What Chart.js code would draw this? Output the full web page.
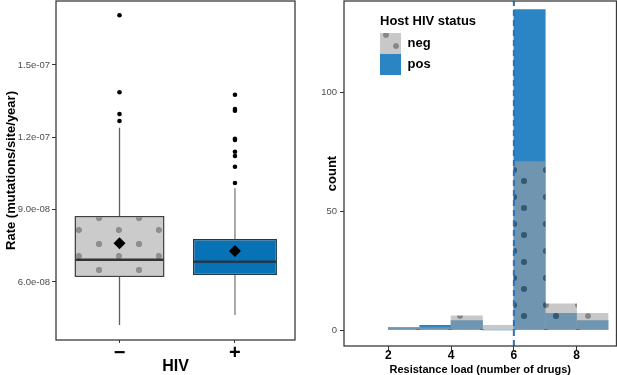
<!DOCTYPE html>
<html>
<head>
<meta charset="utf-8">
<script src="https://cdn.jsdelivr.net/npm/chart.js@4.4.1/dist/chart.umd.min.js"></script>
<style>
  body { margin: 0; background: #fff; }
  #wrap { position: relative; width: 617px; height: 375px; }
  #boxCanvas { position: absolute; left: 0; top: 0; }
  #histCanvas { position: absolute; left: 310px; top: 0; }
</style>
</head>
<body>
<div id="wrap">
  <canvas id="boxCanvas" width="310" height="375"></canvas>
  <canvas id="histCanvas" width="307" height="375"></canvas>
</div>
<script>
// left panel: substitution rate by host HIV status
var groups = ['\u2212', '+'];
var groupPos = [1, 2];
var q1 = [6.207e-8, 6.29e-8];
var med = [6.925e-8, 6.842e-8];
var q3 = [8.737e-8, 7.783e-8];
var whiskLo = [4.217e-8, 4.631e-8];
var whiskHi = [1.24e-7, 9.886e-8];
var means = [7.605e-8, 7.286e-8];
var outliersNeg = [1.7061e-7, 1.3868e-7, 1.2968e-7, 1.2677e-7];
var outliersPos = [1.3768e-7, 1.3175e-7, 1.3105e-7, 1.1943e-7, 1.1889e-7, 1.1404e-7, 1.1226e-7, 1.0782e-7, 1.0106e-7];
var rateTicks = [6e-8, 9e-8, 1.2e-7, 1.5e-7];
var rateTickLabels = ['6.0e-08', '9.0e-08', '1.2e-07', '1.5e-07'];

// right panel: histogram of resistance load
var binCenters = [2.5, 3.5, 4.5, 5.5, 6.5, 7.5, 8.5];
var negCounts = [1, 1, 6, 2, 71, 11, 7];
var posCounts = [1, 2, 4, 0, 135, 7, 4];
var loadTicks = [2, 4, 6, 8];
var countTicks = [0, 50, 100];
var cutoff = 6;

Chart.defaults.font.family = "'Liberation Sans', Arial, sans-serif";
Chart.defaults.animation = false;

function dotPattern(ctx, bg, dot, w, h, dots, r) {
    var c = document.createElement('canvas');
    c.width = w;
    c.height = h;
    var g = c.getContext('2d');
    g.fillStyle = bg;
    g.fillRect(0, 0, w, h);
    [['destination-out', '#000'], ['source-over', dot]].forEach(function(step) {
        g.globalCompositeOperation = step[0];
        g.fillStyle = step[1];
        dots.forEach(function(d) {
            [-w, 0, w].forEach(function(dx) {
                [-h, 0, h].forEach(function(dy) {
                    g.beginPath();
                    g.arc(d[0] + dx, d[1] + dy, r, 0, Math.PI * 2);
                    g.fill();
                });
            });
        });
    });
    return ctx.createPattern(c, 'repeat');
}

// fixed axis sizes, no extra label padding around the plot
function fixX(h) {
    return function(s) { s.height = h; s.paddingLeft = 0; s.paddingRight = 0; };
}
function fixY(w) {
    return function(s) { s.width = w; s.paddingTop = 0; s.paddingBottom = 0; };
}
function setTicks(values) {
    return function(s) { s.ticks = values.map(function(v) { return {value: v}; }); };
}

var framePlugin = {
    id: 'frame',
    afterDraw: function(chart) {
        var a = chart.chartArea, ctx = chart.ctx;
        ctx.save();
        ctx.strokeStyle = '#3a3a3a';
        ctx.lineWidth = 1.3;
        ctx.strokeRect(a.left, a.top, a.right - a.left, a.bottom - a.top);
        ctx.restore();
    }
};

// ---------- boxplot ----------
var whiskerColors = ['#5e5e5e', '#7d7d7d'];
var medianColors = ['#333333', '#1f3a50'];

var boxPlugin = {
    id: 'boxparts',
    beforeDatasetsDraw: function(chart) {
        var ctx = chart.ctx, x = chart.scales.x, y = chart.scales.y;
        ctx.save();
        ctx.lineWidth = 1.3;
        groupPos.forEach(function(p, i) {
            var px = x.getPixelForValue(p);
            ctx.strokeStyle = whiskerColors[i];
            ctx.beginPath();
            ctx.moveTo(px, y.getPixelForValue(whiskLo[i]));
            ctx.lineTo(px, y.getPixelForValue(q1[i]));
            ctx.moveTo(px, y.getPixelForValue(q3[i]));
            ctx.lineTo(px, y.getPixelForValue(whiskHi[i]));
            ctx.stroke();
        });
        ctx.restore();
    },
    afterDatasetDraw: function(chart, args) {
        var ds = chart.data.datasets[args.index];
        if (ds.boxIndex === undefined) return;
        var i = ds.boxIndex;
        var el = args.meta.data[0];
        var py = chart.scales.y.getPixelForValue(med[i]);
        var ctx = chart.ctx;
        ctx.save();
        ctx.strokeStyle = medianColors[i];
        ctx.lineWidth = 2.5;
        ctx.beginPath();
        ctx.moveTo(el.x - el.width / 2 + 1, py);
        ctx.lineTo(el.x + el.width / 2 - 1, py);
        ctx.stroke();
        ctx.restore();
    }
};

var boxCtx = document.getElementById('boxCanvas').getContext('2d');
var negBoxFill = dotPattern(boxCtx, '#cbcbcb', '#8f8f8f', 40, 26, [[19, 10], [39, 22]], 3.2);

var outlierPoints = outliersNeg.map(function(v) { return {x: groupPos[0], y: v}; })
    .concat(outliersPos.map(function(v) { return {x: groupPos[1], y: v}; }));

new Chart(boxCtx, {
    data: {
        datasets: [
            {
                type: 'scatter',
                label: 'mean',
                data: groupPos.map(function(p, i) { return {x: p, y: means[i]}; }),
                pointStyle: 'rectRot',
                pointRadius: 6,
                backgroundColor: '#000',
                borderWidth: 0,
                order: 0
            },
            {
                type: 'scatter',
                label: 'outliers',
                data: outlierPoints,
                pointRadius: 2.3,
                backgroundColor: '#000',
                borderWidth: 0,
                order: 1
            },
            {
                type: 'bar',
                label: 'neg',
                data: [{x: groupPos[0], y: [q1[0], q3[0]]}],
                backgroundColor: negBoxFill,
                borderColor: '#404040',
                borderWidth: 1.5,
                borderSkipped: false,
                barPercentage: 0.78,
                categoryPercentage: 1,
                grouped: false,
                order: 2,
                boxIndex: 0
            },
            {
                type: 'bar',
                label: 'pos',
                data: [{x: groupPos[1], y: [q1[1], q3[1]]}],
                backgroundColor: '#0773b6',
                borderColor: '#1f3a50',
                borderWidth: 1.5,
                borderSkipped: false,
                barPercentage: 0.727,
                categoryPercentage: 1,
                grouped: false,
                order: 2,
                boxIndex: 1
            }
        ]
    },
    options: {
        responsive: false,
        events: [],
        layout: { autoPadding: false, padding: { left: 0, right: 15, top: 1, bottom: 0 } },
        plugins: { legend: { display: false }, tooltip: { enabled: false } },
        scales: {
            x: {
                type: 'linear',
                offset: false,
                min: 0.45,
                max: 2.52,
                afterBuildTicks: setTicks(groupPos),
                afterFit: fixX(35),
                ticks: {
                    callback: function(v, i) { return groups[i]; },
                    font: { size: 20, weight: 'bold', lineHeight: 1 },
                    color: '#000',
                    padding: 0,
                    maxRotation: 0,
                    autoSkip: false
                },
                grid: { offset: false, drawOnChartArea: false, tickLength: 3, color: '#333' },
                border: { display: false },
                title: {
                    display: true,
                    text: 'HIV',
                    font: { size: 16, weight: 'bold', lineHeight: 1 },
                    color: '#000',
                    padding: 0
                }
            },
            y: {
                type: 'linear',
                min: 3.594e-8,
                max: 1.7654e-7,
                afterBuildTicks: setTicks(rateTicks),
                afterFit: fixY(56),
                ticks: {
                    callback: function(v, i) { return rateTickLabels[i]; },
                    font: { size: 9.5 },
                    color: '#4d4d4d',
                    padding: 2
                },
                grid: { drawOnChartArea: false, tickLength: 4, color: '#333' },
                border: { display: false },
                title: {
                    display: true,
                    text: 'Rate (mutations/site/year)',
                    font: { size: 13, weight: 'bold' },
                    color: '#000',
                    padding: { top: 4, bottom: 0 }
                }
            }
        }
    },
    plugins: [boxPlugin, framePlugin]
});

// ---------- histogram ----------
var histCtx = document.getElementById('histCanvas').getContext('2d');
var negHistFill = dotPattern(histCtx, 'rgba(160,160,160,0.58)', 'rgba(60,60,60,0.62)', 32, 27, [[12, 8], [22, 19]], 3);

var legendShift = {
    id: 'legendShift',
    afterLayout: function(chart) {
        var lg = chart.legend;
        lg.left = chart.chartArea.left + 36;
        lg.top = 14.5;
        lg.right = chart.width;
        lg.width = lg.right - lg.left;
        lg.bottom = lg.top + lg.height;
    }
};

var yMinR = -6.74, yMaxR = 138.6;

new Chart(histCtx, {
    data: {
        datasets: [
            {
                type: 'bar',
                label: 'neg',
                data: binCenters.map(function(c, i) { return {x: c, y: negCounts[i]}; }),
                backgroundColor: negHistFill,
                borderWidth: 0,
                barPercentage: 1,
                categoryPercentage: 1,
                grouped: false,
                order: 1
            },
            {
                type: 'bar',
                label: 'pos',
                data: binCenters.map(function(c, i) { return {x: c, y: posCounts[i]}; }),
                backgroundColor: '#2b85c5',
                borderWidth: 0,
                barPercentage: 1,
                categoryPercentage: 1,
                grouped: false,
                order: 2
            },
            {
                type: 'line',
                label: 'cutoff',
                data: [{x: cutoff, y: yMinR}, {x: cutoff, y: yMaxR}],
                borderColor: '#2a72b5',
                borderWidth: 2,
                borderDash: [6, 4],
                pointRadius: 0,
                order: -1
            }
        ]
    },
    options: {
        responsive: false,
        events: [],
        layout: { autoPadding: false, padding: { left: 0, right: 0.5, top: 1, bottom: 0 } },
        plugins: {
            tooltip: { enabled: false },
            legend: {
                display: true,
                position: 'chartArea',
                align: 'start',
                labels: {
                    boxWidth: 21,
                    boxHeight: 21,
                    padding: 0,
                    color: '#000',
                    font: { size: 13, weight: 'bold' },
                    filter: function(item) { return item.datasetIndex < 2; }
                },
                title: {
                    display: true,
                    text: 'Host HIV status',
                    color: '#000',
                    position: 'start',
                    font: { size: 13, weight: 'bold' },
                    padding: { top: 0, bottom: 3 }
                }
            }
        },
        scales: {
            x: {
                type: 'linear',
                offset: false,
                min: 0.589,
                max: 9.27,
                afterBuildTicks: setTicks(loadTicks),
                afterFit: fixX(29),
                ticks: {
                    font: { size: 12, weight: 'bold', lineHeight: 1 },
                    color: '#000',
                    padding: 0,
                    maxRotation: 0,
                    autoSkip: false
                },
                grid: { offset: false, drawOnChartArea: false, tickLength: 4, color: '#333' },
                border: { display: false },
                title: {
                    display: true,
                    text: 'Resistance load (number of drugs)',
                    font: { size: 11, weight: 'bold', lineHeight: 1 },
                    color: '#000',
                    padding: 0
                }
            },
            y: {
                type: 'linear',
                min: yMinR,
                max: yMaxR,
                afterBuildTicks: setTicks(countTicks),
                afterFit: fixY(34),
                ticks: {
                    font: { size: 9.5 },
                    color: '#4d4d4d',
                    padding: 3
                },
                grid: { drawOnChartArea: false, tickLength: 4, color: '#333' },
                border: { display: false },
                title: {
                    display: true,
                    text: 'count',
                    font: { size: 13, weight: 'bold' },
                    color: '#000',
                    padding: { top: 15, bottom: 0 }
                }
            }
        }
    },
    plugins: [legendShift, framePlugin]
});
</script>
</body>
</html>
